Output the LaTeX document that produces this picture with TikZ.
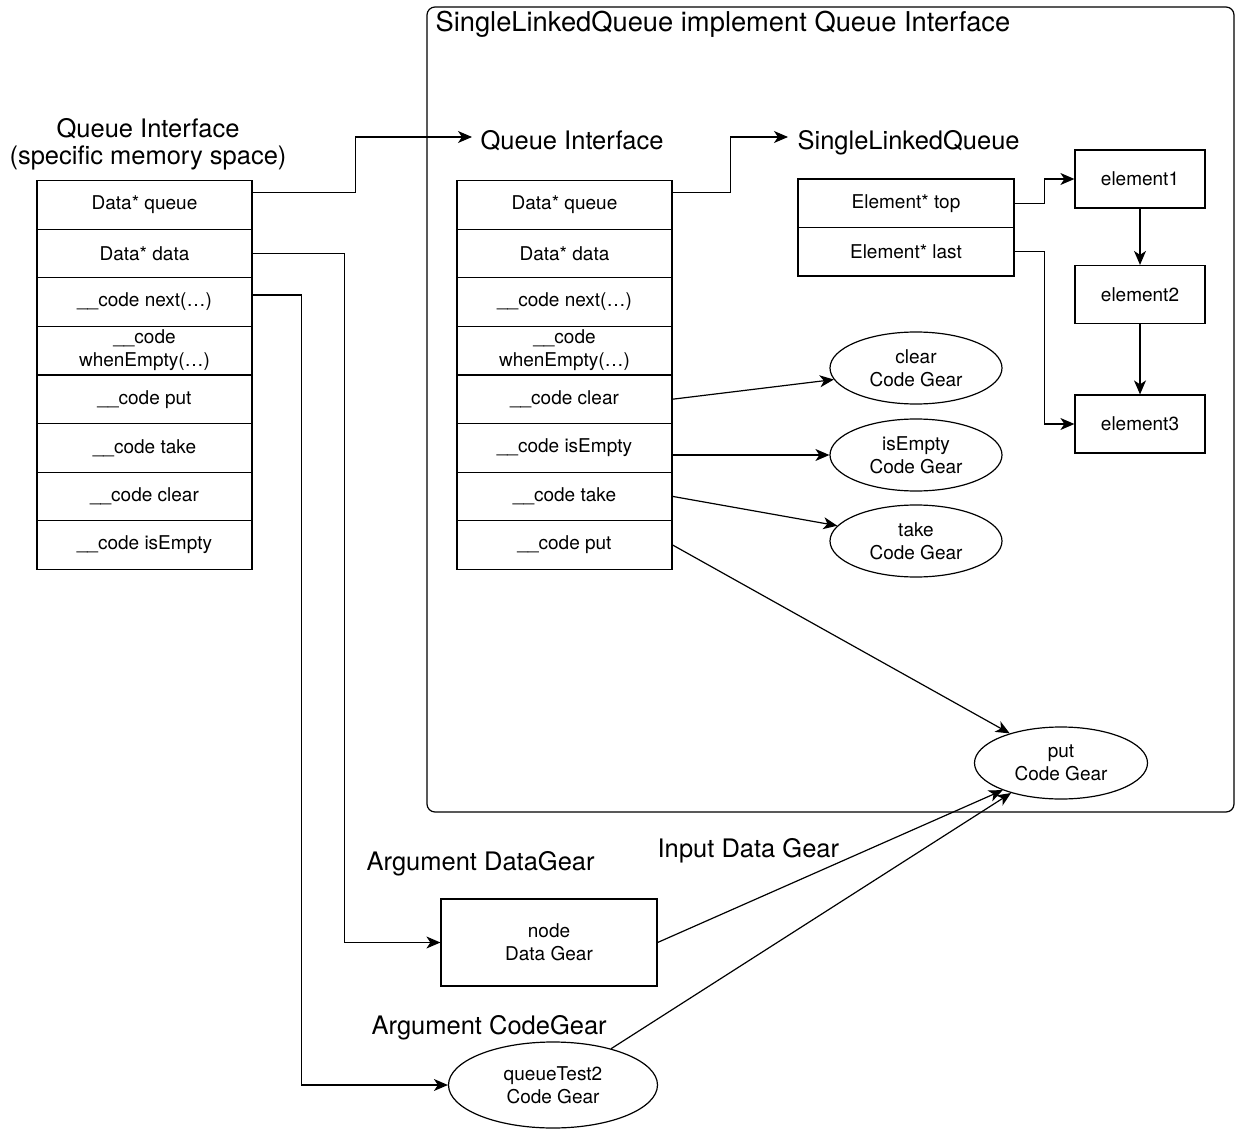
\documentclass[tikz,border=0pt]{standalone}
\usepackage{fontspec}
\setmainfont{TeX Gyre Heros}
\usetikzlibrary{arrows.meta,shapes.geometric}
\begin{document}
\begin{tikzpicture}[x=1pt,y=-1pt,
  line width=1.2pt,
  arr/.style={-{Stealth[length=14pt,width=12pt,inset=4pt]}},
  cell/.style={draw,rectangle,minimum width=215pt,minimum height=48.6pt,inner sep=0pt,
    align=center,font=\fontsize{19}{23}\selectfont},
  slq/.style={draw,rectangle,minimum width=216pt,minimum height=48.5pt,inner sep=0pt,
    align=center,font=\fontsize{19}{23}\selectfont},
  elem/.style={draw,rectangle,minimum width=130pt,minimum height=58pt,inner sep=0pt,
    font=\fontsize{19}{23}\selectfont},
  gear/.style={draw,ellipse,minimum width=172pt,minimum height=72pt,inner sep=0pt,
    align=center,font=\fontsize{19}{23}\selectfont},
  big/.style={inner sep=0pt,font=\fontsize{25.5}{28}\selectfont}
]
\useasboundingbox (0,0) rectangle (1243,1129);

% container
\draw[rounded corners=8pt] (427,7) rectangle (1234,812);
\node[inner sep=0pt,font=\fontsize{27.3}{30}\selectfont,anchor=base west] (title) at (435,32)
  {SingleLinkedQueue implement Queue Interface};

% left table
\node[big,align=center,anchor=base] (lt) at (148,165) {Queue Interface\\(specific memory space)};
\foreach \i/\t in {1/{Data* queue},2/{Data* data},3/{\_\_code next(…)},4/{\_\_code\\whenEmpty(…)},
  5/{\_\_code put},6/{\_\_code take},7/{\_\_code clear},8/{\_\_code isEmpty}}{
  \node[cell] (l\i) at (144.5,{179+48.6*(\i-0.5)+1.5}) {\t};
}

% middle table
\node[big,anchor=base west] (mt) at (480,150) {Queue Interface};
\foreach \i/\t in {1/{Data* queue},2/{Data* data},3/{\_\_code next(…)},4/{\_\_code\\whenEmpty(…)},
  5/{\_\_code clear},6/{\_\_code isEmpty},7/{\_\_code take},8/{\_\_code put}}{
  \node[cell] (m\i) at (564.5,{179+48.6*(\i-0.5)+1.5}) {\t};
}

% SingleLinkedQueue
\node[big,anchor=base west] (st) at (797,150) {SingleLinkedQueue};
\node[slq] (s1) at (906,203.25) {Element* top};
\node[slq] (s2) at (906,251.75) {Element* last};

\node[elem] (e1) at (1140,179) {element1};
\node[elem] (e2) at (1140,294.5) {element2};
\node[elem] (e3) at (1140,424) {element3};

% code gears
\node[gear] (clear) at (916,368) {clear\\Code Gear};
\node[gear] (isempty) at (916,455) {isEmpty\\Code Gear};
\node[gear] (take) at (916,541) {take\\Code Gear};
\node[gear,minimum width=173pt] (put) at (1061,763) {put\\Code Gear};

% arguments
\node[big,anchor=base west] (adg) at (366,870) {Argument DataGear};
\node[big,anchor=base west] (idg) at (657,857) {Input Data Gear};
\node[big,anchor=base west] (acg) at (371,1034) {Argument CodeGear};
\node[draw,rectangle,minimum width=216pt,minimum height=87pt,inner sep=0pt,align=center,
  font=\fontsize{19}{23}\selectfont] (nd) at (549,942.5) {node\\Data Gear};
\node[gear,minimum width=209pt,minimum height=86pt] (qt) at (553,1085) {queueTest2\\Code Gear};

% arrow end points beside labels
\coordinate (qiin) at (472,137);
\coordinate (slqin) at (788,137);

% connectors
\draw[arr] ([yshift=12pt]l1.east) -- ++(103,0) |- (qiin);
\draw[arr] ([yshift=12pt]m1.east) -- ++(58,0) |- (slqin);
\draw[arr] (s1.east) -- ++(30,0) |- (e1.west);
\draw[arr] (s2.east) -- ++(30,0) |- (e3.west);
\draw[arr] (e1) -- (e2);
\draw[arr] (e2) -- (e3);

\draw[arr] (m5.east) -- (clear.188);
\draw[arr] (m6.east |- isempty.west) -- (isempty.west);
\draw[arr] (m7.east) -- (take.169);
\draw[arr] (m8.east) -- (put.150);

\draw[arr] (l2.east) -- ++(92,0) |- (nd.west);
\draw[arr] ([yshift=7pt]l3.east) -- ++(49,0) |- (qt.west);
\draw[arr] (nd.east) -- (put.205);
\draw[arr] (qt.32) -- (put.211);
\end{tikzpicture}
\end{document}
